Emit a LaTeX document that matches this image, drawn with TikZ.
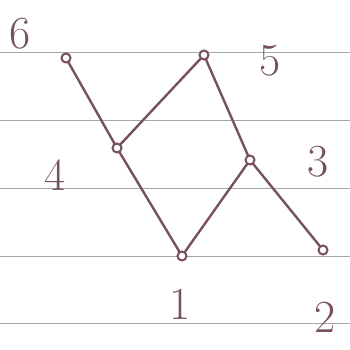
\documentclass[tikz,border=0pt]{standalone}
\usepackage{tikz}
\usetikzlibrary{calc}
\definecolor{ink}{RGB}{120,80,100}

\tikzset{
    vtx/.style={circle, draw=ink, fill=white, line width=2pt, inner sep=0pt, minimum size=9pt},
    num/.style={text=ink, font=\fontsize{46}{46}\selectfont},
    edge/.style={draw=ink, line width=2.4pt},
    rule/.style={draw=gray!70, line width=1pt}
}

\begin{document}
\begin{tikzpicture}[x=1pt, y=1pt]
    \useasboundingbox (0,0) rectangle (350,349);

    % paper lines
    \foreach \h in {297,229,161,93,26}
        \draw[rule] (0,\h) -- (350,\h);

    % vertices
    \coordinate (P6) at (66,291);
    \coordinate (P5) at (204,294);
    \coordinate (P4) at (117,201);
    \coordinate (P3) at (250,189);
    \coordinate (P1) at (182,93);
    \coordinate (P2) at (323,99);

    \draw[edge] (P6) -- (P4);
    \draw[edge] (P4) -- (P1);
    \draw[edge] (P4) -- (P5);
    \draw[edge] (P5) -- (P3);
    \draw[edge] (P3) -- (P1);
    \draw[edge] (P3) -- (P2);

    \foreach \v in {6,5,4,3,1,2}
        \node[vtx] (v\v) at (P\v) {};

    % labels
    \node[num] (l6) at (20,315) {6};
    \node[num] (l5) at (270,288) {5};
    \node[num] (l4) at (55,174) {4};
    \node[num] (l3) at (318,187) {3};
    \node[num] (l1) at (180,45) {1};
    \node[num] (l2) at (325,32) {2};
\end{tikzpicture}
\end{document}
